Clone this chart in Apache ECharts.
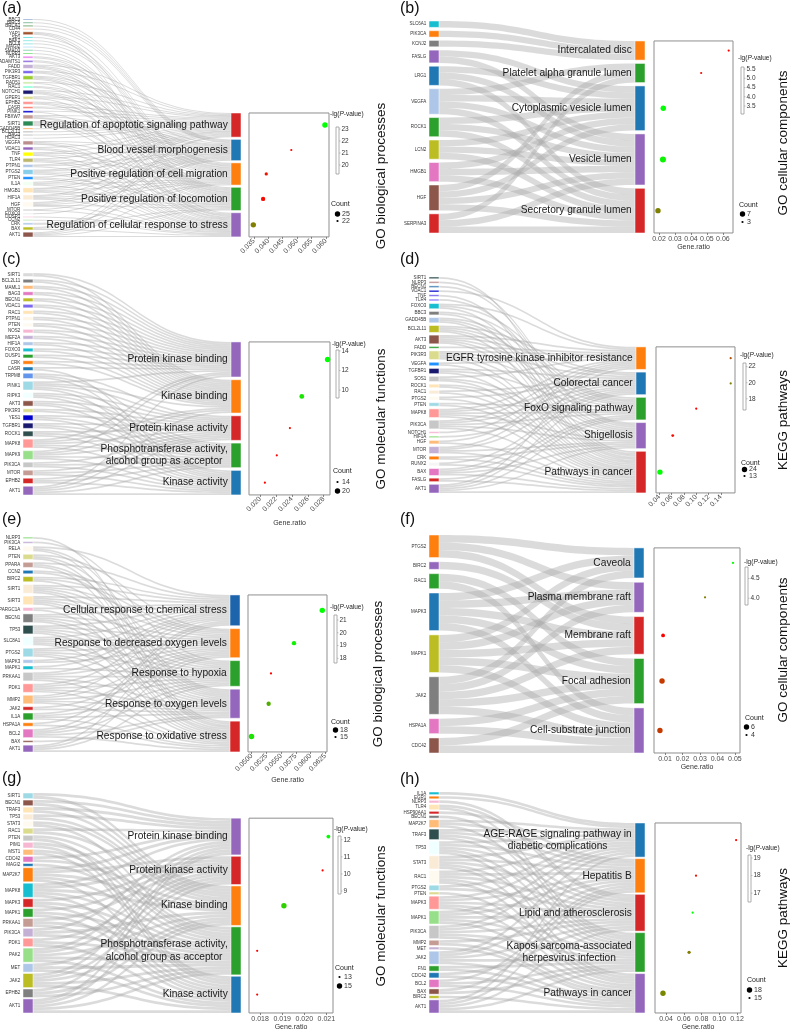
<!DOCTYPE html>
<html><head><meta charset="utf-8">
<script src="https://cdn.jsdelivr.net/npm/echarts@6/dist/echarts.min.js"></script>
<style>html,body{margin:0;padding:0;background:#fff}#c{width:792px;height:1033px}</style>
</head><body><div id="c"></div>
<script>
// ---------------- DATA ----------------
// Each gene string lists the indices of the terms that gene links to.
const aGenes = ["BBC3","BIRC5","BRCA1","CD44","YAP1","SP1","BAK1","BCL6","MAGI2","SMAD3","NLRP3","AKT3","ADAMTS1","FADD","PIK3R3","TGFBR1","RAD51","RAC1","NOTCH1","GPER1","EPHB2","CASR","PINK1","FBXW7","SIRT1","GADD45B","BCL2L11","BAG3","HDAC3","VEGFA","VDAC1","TNF","TLR4","PTPN1","PTGS2","PTEN","IL1A","HMGB1","HIF1A","HGF","MTOR","FOXO3","DUSP1","CCN2","CRK","BAX","AKT1"];
const aGeneTerms = ["1","1","1","1","234","2","2","2","3","3","3","23","23","0234","023","1234","04","23","0234","014","123","01","04","0134","01234","0","0","0","0","1234","034","0124","0234","014","01234","034","0124","01234","01234","01234","14","1","4","4","23","014","01234"];
const aTerms = ["Regulation of apoptotic signaling pathway","Blood vessel morphogenesis","Positive regulation of cell migration","Positive regulation of locomotion","Regulation of cellular response to stress"];
const aRatio = [0.0597,0.0480,0.0393,0.0382,0.0348];
const aLgP = [23.17,19.25,19.5,19.4,21.2];
const aCount = [25,22,23,24,25];
const aTicks = ["0.035","0.040","0.045","0.050","0.055","0.060"];
const aColorTicks = [23,22,21,20];
const aCountLegend = [25,22];

const bGenes = ["SLC6A1","PIK3CA","KCNJ2","FASLG","LRG1","VEGFA","ROCK1","LCN2","HMGB1","HGF","SERPINA3"];
const bGeneTerms = ["0","0","0","23","234","1234","234","234","234","1234","134"];
const bTerms = ["Intercalated disc","Platelet alpha granule lumen","Cytoplasmic vesicle lumen","Vesicle lumen","Secretory granule lumen"];
const bRatio = [0.0636,0.0464,0.0227,0.0225,0.0194];
const bLgP = [3.07,3.2,5.61,5.5,4.35];
const bCount = [3,3,7,8,7];
const bTicks = ["0.02","0.03","0.04","0.05","0.06"];
const bColorTicks = [5.5,5.0,4.5,4.0,3.5];
const bCountLegend = [7,3];

const cGenes = ["SIRT1","BCL2L11","MAML1","BAG3","BECN1","VDAC1","RAC1","PTPN1","PTEN","NOS2","MEF2A","HIF1A","FOXO3","DUSP1","CRK","CASR","TRPM8","PINK1","RIPK3","AKT3","PIK3R3","YES1","TGFBR1","ROCK1","MAPK8","MAPK9","PIK3CA","MTOR","EPHB2","AKT1"];
const cGeneTerms = ["01","01","01","01","01","01","01","01","01","01","01","01","01","01","01","04","234","01234","234","234","23","234","234","234","01234","01234","234","234","234","01234"];
const cTerms = ["Protein kinase binding","Kinase binding","Protein kinase activity","Phosphotransferase activity,\nalcohol group as acceptor","Kinase activity"];
const cRatio = [0.0285,0.02525,0.02375,0.0221,0.0206];
const cLgP = [14.1,13.6,9.5,9.3,9.2];
const cCount = [20,19,14,14,14];
const cTicks = ["0.020","0.022","0.024","0.026","0.028"];
const cColorTicks = [14,12,10];
const cCountLegend = [14,20];

const dGenes = ["SIRT1","NLRP3","BECN1","VDAC1","TNF","TLR4","FOXO3","BBC3","GADD45B","BCL2L11","AKT3","FADD","PIK3R3","VEGFA","TGFBR1","SOS1","ROCK1","RAC1","PTGS2","PTEN","MAPK8","PIK3CA","NOTCH1","HIF1A","HGF","MTOR","CRK","RUNX2","BAX","FASLG","AKT1"];
const dGeneTerms = ["4","3","3","0","4","3","024","24","234","1234","01234","0","01234","04","124","034","34","14","14","24","01234","01234","0","1","04","0134","34","14","1234","24","01234"];
const dTerms = ["EGFR tyrosine kinase inhibitor resistance","Colorectal cancer","FoxO signaling pathway","Shigellosis","Pathways in cancer"];
const dRatio = [0.156,0.156,0.100,0.0618,0.041];
const dLgP = [18.4,19.5,16.6,16.9,22.46];
const dCount = [13,13,13,15,24];
const dTicks = ["0.04","0.06","0.08","0.10","0.12","0.14"];
const dColorTicks = [22,20,18];
const dCountLegend = [24,13];

const eGenes = ["NLRP3","PIK3CA","RELA","PTEN","PPARA","CCN2","BIRC2","SIRT1","SIRT3","PPARGC1A","BECN1","TP53","SLC8A1","PTGS2","MAPK3","MAPK1","PRKAA1","PDK1","MMP2","JAK2","IL1A","HSPA1A","BCL2","BAX","AKT1"];
const eGeneTerms = ["4","2","034","134","034","12","013","01234","01234","04","01234","01234","01234","01234","01","02","01234","01234","01234","13","1234","04","01234","3","0124"];
const eTerms = ["Cellular response to chemical stress","Response to decreased oxygen levels","Response to hypoxia","Response to oxygen levels","Response to oxidative stress"];
const eRatio = [0.0620,0.0572,0.0533,0.0529,0.0500];
const eLgP = [21.39,21.2,17.64,20.2,21.0];
const eCount = [18,17,15,17,18];
const eTicks = ["0.0500","0.0525","0.0550","0.0575","0.0600","0.0625"];
const eColorTicks = [21,20,19,18];
const eCountLegend = [18,15];

const fGenes = ["PTGS2","BIRC2","RAC1","MAPK3","MAPK1","JAK2","HSPA1A","CDC42"];
const fGeneTerms = ["012","2","34","01234","01234","01234","34","34"];
const fTerms = ["Caveola","Plasma membrane raft","Membrane raft","Focal adhesion","Cell-substrate junction"];
const fRatio = [0.0489,0.0329,0.0089,0.0083,0.0071];
const fLgP = [4.79,4.3,3.83,4.05,4.05];
const fCount = [4,4,5,6,6];
const fTicks = ["0.01","0.02","0.03","0.04","0.05"];
const fColorTicks = [4.5,4.0];
const fCountLegend = [6,4];

const gGenes = ["SIRT1","BECN1","TRAF3","TP53","STAT3","RAC1","PTEN","PIM1","MST1","CDC42","MAGI2","MAP2K7","MAPK8","MAPK3","MAPK1","PRKAA1","PIK3CA","PDK1","PAK2","MET","JAK2","EPHB2","AKT1"];
const gGeneTerms = ["02","02","02","02","23","02","34","34","34","02","3","01234","01234","134","134","134","023","134","01234","134","01234","023","01234"];
const gTerms = ["Protein kinase binding","Protein kinase activity","Kinase binding","Phosphotransferase activity,\nalcohol group as acceptor","Kinase activity"];
const gRatio = [0.02109,0.02083,0.01908,0.01787,0.01787];
const gLgP = [12.22,8.9,11.6,8.83,8.95];
const gCount = [14,13,15,13,13];
const gTicks = ["0.018","0.019","0.020","0.021"];
const gColorTicks = [12,11,10,9];
const gCountLegend = [13,15];

const hGenes = ["IL1A","EGR1","NLRP3","TLR4","HSP90AA1","BECN1","MAP2K7","TRAF3","TP53","STAT3","RAC1","PTGS2","PTEN","MAPK3","MAPK1","PIK3CA","MMP2","MET","JAK2","FN1","CDC42","BCL2","BAX","BIRC2","AKT1"];
const hGeneTerms = ["0","0","2","23","1","3","013","0123","01234","01234","01234","02","4","01234","01234","01234","24","4","01234","34","24","134","13","4","01234"];
const hTerms = ["AGE-RAGE signaling pathway in\ndiabetic complications","Hepatitis B","Lipid and atherosclerosis","Kaposi sarcoma-associated\nherpesvirus infection","Pathways in cancer"];
const hRatio = [0.119,0.0738,0.070,0.066,0.0366];
const hLgP = [16.5,16.7,19.17,17.8,17.9];
const hCount = [15,15,15,16,18];
const hTicks = ["0.04","0.06","0.08","0.10","0.12"];
const hColorTicks = [19,18,17];
const hCountLegend = [18,15];

// ---------------- STYLE (colours) ----------------
const aGeneColors = ["#6b8fc9","#2e8b57","#006400","#ffa07a","#a0522d","#00ced1","#40e0d0","#48d1cc","#87cefa","#3cb371","#32cd32","#ee82ee","#9370db","#c5b0d5","#7b68ee","#9acd32","#c7e9a0","#7fffd4","#191970","#dbdb8d","#ff9896","#fa8072","#0000cd","#c49c94","#2e8b57","#ff7f0e","#7f7f7f","#8c8c8c","#d3d3d3","#bc8f8f","#9467bd","#ffff00","#bdb76b","#aec7e8","#87ceeb","#1e90ff","#f0fff0","#ffe4b5","#faebd7","#fffaf0","#dcdcdc","#e0e0e0","#f7b6d2","#98df8a","#aec7e8","#bcbd22","#8c564b"];
const aTermColors = ["#d62728","#1f77b4","#ff7f0e","#2ca02c","#9467bd"];
const bGeneColors = ["#17becf","#ff7f0e","#7f7f7f","#9467bd","#1f77b4","#aec7e8","#2ca02c","#bcbd22","#e377c2","#8c564b","#d62728"];
const bTermColors = ["#ff7f0e","#2ca02c","#1f77b4","#9467bd","#d62728"];
const cGeneColors = ["#d9d9d9","#7f7f7f","#ffbb78","#e377c2","#bcbd22","#7b68ee","#ffe4b5","#fdf5e6","#fffaf0","#f7b6d2","#c5b0d5","#aec7e8","#17becf","#2ca02c","#ff7f0e","#1f77b4","#6495ed","#9edae5","#f0ffff","#8c564b","#dbdb8d","#0000cd","#191970","#2f4f4f","#ff9896","#98df8a","#c7c7c7","#c49c94","#d62728","#9467bd"];
const cTermColors = ["#9467bd","#ff7f0e","#d62728","#2ca02c","#1f77b4"];
const dGeneColors = ["#2f4f4f","#bc8f8f","#4682b4","#0000cd","#7b68ee","#8470ff","#17becf","#7f7f7f","#aec7e8","#bcbd22","#8c564b","#2ca02c","#dbdb8d","#1e90ff","#191970","#c7c7c7","#ffe4b5","#faebd7","#fffaf0","#9edae5","#ff9896","#c7c7c7","#f7b6d2","#98df8a","#ffbb78","#c5b0d5","#ff7f0e","#f5f5f5","#e377c2","#d62728","#9467bd"];
const dTermColors = ["#ff7f0e","#1f77b4","#2ca02c","#9467bd","#d62728"];
const eGeneColors = ["#98df8a","#c5b0d5","#fffaf0","#dbdb8d","#c49c94","#1f77b4","#bcbd22","#faebd7","#ffe4b5","#f7b6d2","#7f7f7f","#2f4f4f","#f0ffff","#9edae5","#aec7e8","#17becf","#c7c7c7","#ff9896","#ffbb78","#d62728","#2ca02c","#ff7f0e","#e377c2","#8c564b","#9467bd"];
const eTermColors = ["#1c64ab","#ff7f0e","#2ca02c","#9467bd","#d62728"];
const fGeneColors = ["#ff7f0e","#9467bd","#2ca02c","#1f77b4","#bcbd22","#7f7f7f","#e377c2","#8c564b"];
const fTermColors = ["#1f77b4","#9467bd","#d62728","#2ca02c","#9467bd"];
const gGeneColors = ["#9edae5","#8c564b","#ffe4b5","#faebd7","#fffaf0","#dbdb8d","#c7c7c7","#f7b6d2","#ffbb78","#e377c2","#1f77b4","#ff7f0e","#17becf","#d62728","#2ca02c","#c49c94","#c5b0d5","#ff9896","#98df8a","#aec7e8","#bcbd22","#7f7f7f","#9467bd"];
const gTermColors = ["#9467bd","#d62728","#ff7f0e","#2ca02c","#1f77b4"];
const hGeneColors = ["#17becf","#ff7f0e","#f7b6d2","#ffe4b5","#d62728","#7f7f7f","#ffbb78","#2f4f4f","#f0ffff","#faebd7","#fffaf0","#9edae5","#dbdb8d","#ff9896","#98df8a","#c7c7c7","#c49c94","#c5b0d5","#aec7e8","#2ca02c","#1f77b4","#e377c2","#8c564b","#bcbd22","#9467bd"];
const hTermColors = ["#1f77b4","#ff7f0e","#d62728","#2ca02c","#9467bd"];

// ---------------- LAYOUT ----------------
const LAYOUT = {
  a:{sankey:[23,19,218,218],gap:2.24,grid:[249,80],xr:[0.0333,0.0611],rot:45,xName:"",label:[2,1],title:[381,176,"GO biological processes"],leg:{tx:330,ty:114.5,bar:[336,127,3,47],cy:204,items:[214,221]}},
  b:{sankey:[429,21,216,212],gap:3.33,grid:[654,79],xr:[0.0169,0.0663],rot:0,xName:"Gene.ratio",label:[400,1],title:[783,143,"GO cellular components"],leg:{tx:738,ty:58,bar:[741,67,3,47],cy:205,items:[214,222]}},
  c:{sankey:[23,273,218,222],gap:2.76,grid:[249,81],xr:[0.0186,0.0288],rot:45,xName:"Gene.ratio",label:[2,252],title:[381,419,"GO molecular functions"],leg:{tx:332,ty:344,bar:[336,350,3,48],cy:471,items:[482,491]}},
  d:{sankey:[429,277,217,216],gap:2.69,grid:[656,79],xr:[0.0346,0.163],rot:45,xName:"",label:[400,252],title:[783,420,"KEGG pathways"],leg:{tx:740,ty:355,bar:[743,363,3,47],cy:463,items:[469.5,476]}},
  e:{sankey:[23,537,217,215],gap:2.9,grid:[248,79],xr:[0.0494,0.0628],rot:45,xName:"Gene.ratio",label:[2,512],title:[378,674,"GO biological processes"],leg:{tx:330,ty:607,bar:[334,615,3,48],cy:722,items:[730,737]}},
  f:{sankey:[429,535,215,218],gap:4.3,grid:[654,86],xr:[0.0037,0.0529],rot:0,xName:"Gene.ratio",label:[400,512],title:[783,650,"GO cellular components"],leg:{tx:744,ty:562,bar:[745,567,3,38],cy:718,items:[727,735]}},
  g:{sankey:[23,793,218,220],gap:1.4,grid:[249,84],xr:[0.0175,0.0213],rot:0,xName:"Gene.ratio",label:[2,771],title:[381,916,"GO molecular functions"],leg:{tx:334,ty:829,bar:[338,836,3,58],cy:968,items:[977,986]}},
  h:{sankey:[429,792,216,221],gap:1.55,grid:[655,86],xr:[0.0276,0.1245],rot:0,xName:"Gene.ratio",label:[400,772],title:[783,918,"KEGG pathways"],leg:{tx:746,ty:848,bar:[748,855,3,47],cy:980,items:[990,998]}}
};

const PANELS = [
  {k:"a",genes:aGenes,links:aGeneTerms,terms:aTerms,ratio:aRatio,lgp:aLgP,count:aCount,ticks:aTicks,cticks:aColorTicks,cleg:aCountLegend,gcol:aGeneColors,tcol:aTermColors},
  {k:"b",genes:bGenes,links:bGeneTerms,terms:bTerms,ratio:bRatio,lgp:bLgP,count:bCount,ticks:bTicks,cticks:bColorTicks,cleg:bCountLegend,gcol:bGeneColors,tcol:bTermColors},
  {k:"c",genes:cGenes,links:cGeneTerms,terms:cTerms,ratio:cRatio,lgp:cLgP,count:cCount,ticks:cTicks,cticks:cColorTicks,cleg:cCountLegend,gcol:cGeneColors,tcol:cTermColors},
  {k:"d",genes:dGenes,links:dGeneTerms,terms:dTerms,ratio:dRatio,lgp:dLgP,count:dCount,ticks:dTicks,cticks:dColorTicks,cleg:dCountLegend,gcol:dGeneColors,tcol:dTermColors},
  {k:"e",genes:eGenes,links:eGeneTerms,terms:eTerms,ratio:eRatio,lgp:eLgP,count:eCount,ticks:eTicks,cticks:eColorTicks,cleg:eCountLegend,gcol:eGeneColors,tcol:eTermColors},
  {k:"f",genes:fGenes,links:fGeneTerms,terms:fTerms,ratio:fRatio,lgp:fLgP,count:fCount,ticks:fTicks,cticks:fColorTicks,cleg:fCountLegend,gcol:fGeneColors,tcol:fTermColors},
  {k:"g",genes:gGenes,links:gGeneTerms,terms:gTerms,ratio:gRatio,lgp:gLgP,count:gCount,ticks:gTicks,cticks:gColorTicks,cleg:gCountLegend,gcol:gGeneColors,tcol:gTermColors},
  {k:"h",genes:hGenes,links:hGeneTerms,terms:hTerms,ratio:hRatio,lgp:hLgP,count:hCount,ticks:hTicks,cticks:hColorTicks,cleg:hCountLegend,gcol:hGeneColors,tcol:hTermColors}
];

const FONT = "Liberation Sans, Arial, Helvetica, sans-serif";
const TERM_FS = 10.2;
const sum = arr => arr.reduce((s, v) => s + v, 0);
function dotSize(c, lo, hi) {
  const t = (c - lo) / (hi - lo);
  return Math.max(1.8, Math.min(6, 2.2 + t * 3.2));
}
function termLabel(name) {
  const lines = name.split("\n");
  const base = {show:true, position:"left", distance:3, fontSize:TERM_FS, color:"#1a1a1a", fontFamily:FONT};
  if (lines.length === 1) return base;
  return Object.assign(base, {
    formatter: lines.map(s => "{c|" + s + "}").join("\n"),
    rich: {c: {fontSize:TERM_FS, color:"#1a1a1a", fontFamily:FONT, align:"center", lineHeight:12.5}}
  });
}

const series = [], grids = [], xAxes = [], yAxes = [], visualMaps = [], graphics = [];

PANELS.forEach((p, i) => {
  const L = LAYOUT[p.k];
  const [sx, sy, sw, sh] = L.sankey;
  const gap = L.gap;
  const nG = p.genes.length, nT = p.terms.length;
  const sumG = sum(p.links.map(s => s.length));
  const ky = (sh - (nG - 1) * gap) / sumG;
  const tCounts = p.terms.map((t, j) => p.links.filter(s => s.indexOf(String(j)) >= 0).length);
  const sumT = sum(tCounts);
  const spacer = ((sh - nT * gap) / ky - sumT) * 0.999;

  const nodes = [];
  p.genes.forEach((g, gi) => nodes.push({
    name: g, itemStyle: {color: p.gcol[gi]},
    label: {show:true, position:"left", distance:2.5, fontSize:4.5, color:"#333", fontFamily:FONT}
  }));
  nodes.push({name:"__spacer_" + p.k, value: spacer, depth: 1,
    itemStyle: {color:"rgba(0,0,0,0)", borderWidth:0}, label: {show:false}});
  p.terms.forEach((t, j) => nodes.push({name: t, itemStyle: {color: p.tcol[j]}, label: termLabel(t)}));
  const links = [];
  p.links.forEach((s, gi) => s.split("").forEach(ch => links.push({source: p.genes[gi], target: p.terms[+ch], value: 1})));

  series.push({
    type: "sankey", left: sx, top: sy, width: sw, height: sh,
    nodeWidth: 10, nodeGap: gap, layoutIterations: 0, nodeAlign: "justify",
    draggable: false, silent: true, animation: false,
    itemStyle: {borderWidth: 0.5, borderColor: "#ffffff"},
    lineStyle: {color: "#a9a9a9", opacity: 0.42, curveness: 0.5},
    emphasis: {disabled: true},
    data: nodes, links: links
  });

  // dot plot: y = position along the sankey term column (in link units)
  const gapU = gap / ky;
  const y0 = spacer + gapU;
  const total = sumT + (nT - 1) * gapU;
  const centers = [];
  let cum = y0;
  tCounts.forEach(c => { centers.push(cum + c / 2); cum += c + gapU; });
  const gTop = sy + spacer * ky + gap;
  const gH = sumT * ky + (nT - 1) * gap;
  grids.push({left: L.grid[0], top: gTop, width: L.grid[1], height: gH, show: true,
    borderColor: "#8f8f8f", borderWidth: 1, backgroundColor: "rgba(0,0,0,0)", containLabel: false, outerBoundsMode: "none"});
  const tv = p.ticks.map(Number);
  const dec = p.ticks[0].split(".")[1].length;
  xAxes.push({
    gridIndex: i, type: "value", min: L.xr[0], max: L.xr[1], position: "bottom",
    axisLine: {show: false, onZero: false}, splitLine: {show: false},
    axisTick: {show: true, length: 2, lineStyle: {color: "#666", width: 0.8}, customValues: tv},
    axisLabel: {customValues: tv, formatter: v => Number(v).toFixed(dec), rotate: L.rot,
      fontSize: 7, color: "#4d4d4d", margin: 3, fontFamily: FONT},
    name: L.xName, nameLocation: "middle", nameGap: L.rot ? 25 : 11,
    nameTextStyle: {fontSize: 7, color: "#333", fontFamily: FONT}
  });
  yAxes.push({gridIndex: i, type: "value", min: y0, max: y0 + total, inverse: true, show: false,
    axisLine: {onZero: false}});
  const lo = Math.min(...p.lgp), hi = Math.max(...p.lgp);
  const cLo = Math.min(...p.cleg), cHi = Math.max(...p.cleg);
  series.push({
    type: "scatter", xAxisIndex: i, yAxisIndex: i, silent: true, z: 5, animation: false,
    data: p.ratio.map((r, j) => [r, centers[j], p.lgp[j], p.count[j]]),
    symbolSize: v => dotSize(v[3], cLo, cHi),
    itemStyle: {opacity: 1}
  });
  visualMaps.push({type: "continuous", show: false, seriesIndex: series.length - 1, dimension: 2,
    min: lo, max: hi, inRange: {color: ["#ff0000", "#00ff00"]}});

  // panel label
  graphics.push({type: "text", x: L.label[0], y: L.label[1], style: {text: "(" + p.k + ")", fontSize: 16, fontFamily: FONT, fill: "#111", textAlign: "left", textVerticalAlign: "top", align: "left", verticalAlign: "top"}});
  // vertical title
  graphics.push({type: "text", x: L.title[0], y: L.title[1], rotation: Math.PI / 2,
    style: {text: L.title[2], fontSize: 13.5, fontFamily: FONT, fill: "#111", textAlign: "center", textVerticalAlign: "middle", align: "center", verticalAlign: "middle"}});
  // colour legend
  const lg = L.leg;
  graphics.push({type: "text", x: lg.tx, y: lg.ty,
    style: {text: "-lg({i|P}-value)", rich: {i: {fontStyle: "italic", fontSize: 6.5, fontFamily: FONT, fill: "#222"}},
      fontSize: 6.5, fontFamily: FONT, fill: "#222", textAlign: "left", textVerticalAlign: "middle", align: "left", verticalAlign: "middle"}});
  const [bx, by, bw, bh] = lg.bar;
  graphics.push({type: "rect", shape: {x: bx, y: by, width: bw, height: bh}, style: {fill: "#fff", stroke: "#999", lineWidth: 0.8}});
  p.cticks.forEach(v => {
    const yy = by + bh - (v - lo) / (hi - lo) * bh;
    graphics.push({type: "line", shape: {x1: bx + bw, y1: yy, x2: bx + bw + 1.5, y2: yy}, style: {stroke: "#999", lineWidth: 0.6}});
    graphics.push({type: "text", x: bx + bw + 2.5, y: yy,
      style: {text: (p.cticks.some(t => t % 1 !== 0) ? v.toFixed(1) : String(v)), fontSize: 6.5, fontFamily: FONT, fill: "#333", textAlign: "left", textVerticalAlign: "middle", align: "left", verticalAlign: "middle"}});
  });
  // count legend
  graphics.push({type: "text", x: lg.tx + 1, y: lg.cy,
    style: {text: "Count", fontSize: 7, fontFamily: FONT, fill: "#222", textAlign: "left", textVerticalAlign: "middle", align: "left", verticalAlign: "middle"}});
  p.cleg.forEach((c, k) => {
    const yy = lg.items[k];
    graphics.push({type: "circle", shape: {cx: bx + 1.5, cy: yy, r: dotSize(c, cLo, cHi) / 2}, style: {fill: "#000"}});
    graphics.push({type: "text", x: bx + 6, y: yy,
      style: {text: String(c), fontSize: 7, fontFamily: FONT, fill: "#333", textAlign: "left", textVerticalAlign: "middle", align: "left", verticalAlign: "middle"}});
  });
});

const chart = echarts.init(document.getElementById("c"), null, {renderer: "canvas", width: 792, height: 1033});
chart.setOption({
  backgroundColor: "#ffffff",
  animation: false,
  textStyle: {fontFamily: FONT},
  tooltip: {show: false},
  grid: grids, xAxis: xAxes, yAxis: yAxes,
  visualMap: visualMaps,
  series: series,
  graphic: {elements: graphics}
});
</script>
</body></html>
